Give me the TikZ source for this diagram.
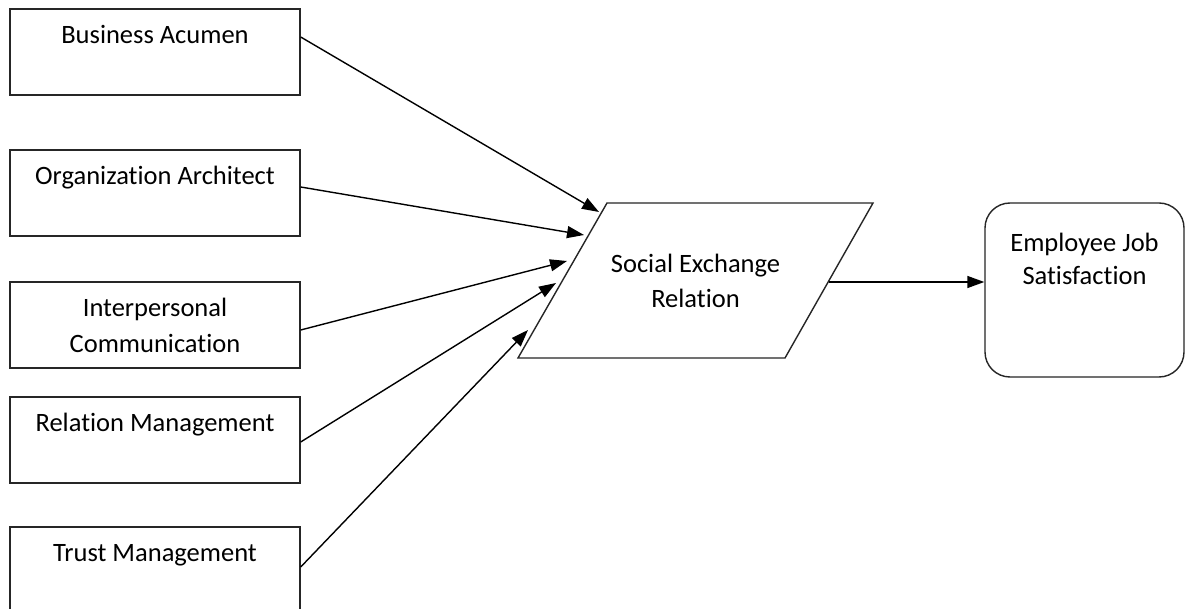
\documentclass[tikz,border=0pt]{standalone}
\usepackage{fontspec}
\setmainfont{Carlito}[Ligatures=NoCommon]
\usetikzlibrary{arrows.meta,calc}
\newcommand{\topstrut}[1]{\rule{0pt}{#1}}
\begin{document}
\begin{tikzpicture}[x=1pt,y=-1pt,
  box/.style={draw=black!85, line width=1.4pt, minimum width=290pt, minimum height=86pt,
    inner sep=0pt, align=center, font=\fontsize{26.5}{36}\selectfont},
  txt/.style={align=center, inner sep=0pt, font=\fontsize{26.5}{35}\selectfont},
  shapeline/.style={draw=black!85, line width=1.4pt},
  conn/.style={line width=1.4pt, -{Triangle[length=17pt,width=12pt]}}]
\useasboundingbox (0,0) rectangle (1186,609);
\clip (0,0) rectangle (1186,609);
\fill[white] (0,0) rectangle (1186,609);
% left boxes
\node[box] (b1) at (155,52)  {\topstrut{29.5pt}Business Acumen\\\strut};
\node[box] (b2) at (155,193) {\topstrut{29.5pt}Organization Architect\\\strut};
\node[box] (b3) at (155,325) {\topstrut{29.5pt}Interpersonal\\\strut Communication};
\node[box] (b4) at (155,440) {\topstrut{29.5pt}Relation Management\\\strut};
\node[box] (b5) at (155,570) {\topstrut{29.5pt}Trust Management\\\strut};
% parallelogram
\coordinate (p1) at (607,203);
\coordinate (p2) at (873,203);
\coordinate (p3) at (785,358);
\coordinate (p4) at (518,358);
\draw[shapeline] (p1) -- (p2) -- (p3) -- (p4) -- cycle;
\node[txt] (sx) at (695.5,281) {Social Exchange\\Relation};
% rounded box
\node[draw=black!85, line width=1.4pt, rounded corners=25pt, minimum width=199pt,
  minimum height=174pt, inner sep=0pt, align=center,
  font=\fontsize{26.5}{33}\selectfont] (ej) at (1084.5,290)
  {\topstrut{31pt}Employee Job\\\strut Satisfaction\\\strut\\\strut};
% arrow tips
\coordinate (t1) at (599,212);
\coordinate (t2) at (584,235);
\coordinate (t3) at (567,261);
\coordinate (t4) at (556,283);
\coordinate (t5) at (528,330);
\coordinate (o1) at (829,282);
\draw[conn] ($(b1.east)+(0,-15)$) -- (t1);
\draw[conn] ($(b2.east)+(0,-6)$) -- (t2);
\draw[conn] ($(b3.east)+(0,5)$) -- (t3);
\draw[conn] ($(b4.east)+(0,2)$) -- (t4);
\draw[conn] ($(b5.east)+(0,-3)$) -- (t5);
\draw[conn] (o1) -- (ej.west |- o1);
\end{tikzpicture}
\end{document}
